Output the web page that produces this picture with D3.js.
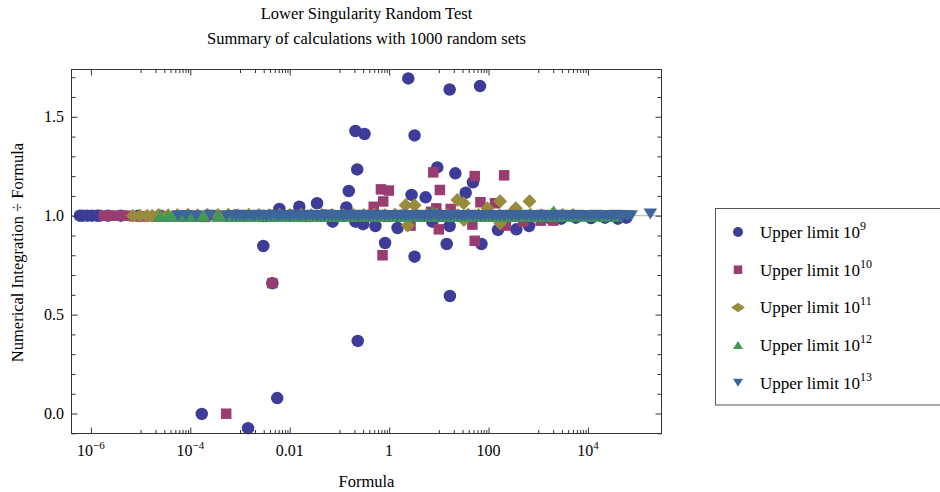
<!DOCTYPE html>
<html>
<head>
<meta charset="utf-8">
<script src="https://cdnjs.cloudflare.com/ajax/libs/d3/7.8.5/d3.min.js"></script>
<style>
    body { margin: 0; background: #fff; }
    svg text { font-family: "Liberation Serif", "Times New Roman", serif; fill: #000; }
</style>
</head>
<body>
<div id="vis"></div>
<script>
/* Lower singularity random test: numerical integration / formula, log x */

// Upper limit 10^9 (circles)
var circlePts = [
    [6.0e-7, 1.0], [6.8e-7, 1.0], [8.5e-7, 1.0], [1.05e-6, 1.0], [1.34e-6, 1.0], [1.5e-6, 1.0],
    [2.2e-6, 1.0], [4.0e-6, 1.0], [9e-6, 1.0], [2.5e-5, 1.0], [7e-5, 0.999], [2.2e-4, 1.0],
    [8e-4, 1.001], [3e-3, 0.999], [0.011, 1.0], [0.05, 1.001], [0.4, 0.998], [1.8, 1.0],
    [12, 0.999], [90, 1.0], [400, 0.998],
    [1.6e3, 0.99], [2.9e3, 0.985], [5.7e3, 0.99], [1.15e4, 0.988], [2.2e4, 0.99], [4.0e4, 0.985], [5.9e4, 0.99],
    [2.43, 1.694], [16.5, 1.638], [67.5, 1.655], [0.21, 1.428], [0.32, 1.413], [3.25, 1.406],
    [0.228, 1.234], [9.3, 1.244], [21.5, 1.214], [48.6, 1.169], [34.7, 1.116], [0.154, 1.125],
    [2.83, 1.105], [5.42, 1.093], [0.0355, 1.063], [0.0156, 1.045], [0.0062, 1.034], [0.138, 1.042],
    [0.073, 0.970], [0.21, 0.970], [0.83, 0.862], [14.4, 0.857], [72, 0.857], [3.25, 0.793],
    [155, 0.928], [363, 0.931], [656, 0.948], [0.30, 0.957], [16.5, 0.948], [0.00294, 0.847],
    [16.7, 0.594], [0.234, 0.367], [0.00447, 0.659], [0.0056, 0.078], [1.7e-4, -0.002],
    [1.45e-3, -0.074], [7.4, 0.970], [0.53, 0.948], [1.48, 0.938]
];

// Upper limit 10^10 (squares)
var squarePts = [
    [1.83e-6, 1.0], [2.4e-6, 1.0], [3.2e-6, 1.0], [4.2e-6, 1.0], [5.6e-6, 1.0],
    [7.5e-6, 0.997], [1.2e-5, 0.996], [2e-5, 0.995], [3.3e-5, 0.996], [5e-5, 0.995], [8e-5, 0.996],
    [1.3e-4, 0.995], [2e-4, 0.994], [3.5e-4, 0.996], [6e-4, 0.995], [1e-3, 0.995], [1.6e-3, 0.996],
    [2.8e-3, 0.994], [4.5e-3, 0.995], [8e-3, 0.996], [1.4e-2, 0.995], [2.3e-2, 0.994], [4e-2, 0.996],
    [6.5e-2, 0.995], [0.11, 0.995], [0.19, 0.994], [0.33, 0.996], [0.55, 0.995], [0.95, 0.994],
    [1.6, 0.995], [2.7, 0.996], [4.6, 0.995], [8, 0.994], [13, 0.995], [22, 0.996], [38, 0.994],
    [65, 0.995], [110, 0.995], [190, 0.994], [330, 0.995], [560, 0.994], [950, 0.995],
    [1.6e3, 0.994], [2.2e3, 0.995],
    [7.74, 1.219], [52.7, 1.20], [206, 1.204], [0.684, 1.133], [0.986, 1.127], [10.5, 1.13],
    [0.76, 1.072], [68.7, 1.068], [10.0, 0.931], [47.3, 0.955], [52.7, 0.873], [0.736, 0.80],
    [0.00447, 0.659], [5.27e-4, -0.001], [0.49, 1.045], [222, 0.95], [7.0, 1.02], [8.9, 1.037],
    [17.3, 1.034], [135, 1.063], [500, 0.97], [1120, 0.975], [2.0e3, 0.975], [2.7, 0.95]
];

// Upper limit 10^11 (diamonds)
var diamondPts = [
    [7.0e-6, 1.0], [9.7e-6, 1.0], [1.35e-5, 1.0], [1.7e-5, 1.0],
    [2.3e-5, 1.004], [3.6e-5, 1.002], [5.5e-5, 1.003], [9e-5, 1.005], [1.4e-4, 1.002], [2.2e-4, 1.005],
    [3.6e-4, 1.003], [5.8e-4, 1.005], [9e-4, 1.002], [1.5e-3, 1.005], [2.4e-3, 1.004], [3.9e-3, 1.002],
    [6.2e-3, 1.005], [1e-2, 1.003], [1.7e-2, 1.005], [2.7e-2, 1.002], [4.4e-2, 1.005], [7e-2, 1.004],
    [0.12, 1.002], [0.19, 1.005], [0.31, 1.003], [0.5, 1.005], [0.82, 1.002], [1.3, 1.005],
    [2.1, 1.003], [3.5, 1.005], [5.6, 1.002], [9, 1.005], [15, 1.004], [24, 1.002], [39, 1.005],
    [63, 1.003], [100, 1.005], [165, 1.002], [270, 1.005], [440, 1.004], [700, 1.005],
    [1.15e3, 1.002], [1.9e3, 1.005], [3.1e3, 1.003], [5e3, 1.004],
    [23.6, 1.079], [2.14, 1.053], [3.25, 1.053], [171, 1.073], [668, 1.073], [2.38, 0.95],
    [171, 0.962], [95, 1.037], [353, 1.037], [32, 0.978], [31.6, 1.063]
];

// Upper limit 10^12 (triangles)
var trianglePts = [
    [2.46e-5, 1.0], [3.56e-5, 1.0], [4.5e-5, 1.0], [1.81e-4, 1.0], [3.6e-4, 1.0],
    [6.5e-5, 0.999], [1.1e-4, 0.998], [5.5e-4, 0.999], [8e-4, 0.998], [1.2e-3, 0.999], [1.9e-3, 0.998],
    [3e-3, 0.999], [4.7e-3, 0.998], [7.5e-3, 0.999], [1.2e-2, 0.998], [1.9e-2, 0.999], [3e-2, 0.998],
    [4.8e-2, 0.999], [7.7e-2, 0.998], [0.12, 0.999], [0.2, 0.998], [0.32, 0.999], [0.5, 0.998],
    [0.8, 0.999], [1.3, 0.998], [2, 0.999], [3.2, 0.998], [5.1, 0.999], [8.2, 0.998], [13, 0.999],
    [21, 0.998], [33, 0.999], [53, 0.998], [85, 0.999], [135, 0.998], [215, 0.999], [345, 0.998],
    [550, 0.999], [880, 0.998], [1.4e3, 0.999], [2.2e3, 0.998], [3.6e3, 0.999], [5.7e3, 0.998],
    [9e3, 0.999], [1.45e4, 0.998], [2.3e4, 0.999], [3.7e4, 0.998],
    [7.4, 1.022], [2.05e3, 1.024]
];

// Upper limit 10^13 (down triangles)
var downPts = [
    [5.7e-5, 1.0], [8.2e-5, 1.001], [1.31e-4, 1.0], [2.5e-4, 1.002], [5.3e-4, 1.0],
    [7.0e-4, 1.001], [8.4e-4, 0.999],
    [1.0e-3, 1.002], [1.2e-3, 0.999], [1.4e-3, 1.001], [1.7e-3, 1.0], [2.0e-3, 0.998], [2.4e-3, 1.002],
    [2.9e-3, 1.0], [3.4e-3, 0.999], [4.1e-3, 1.001], [4.9e-3, 1.003], [5.8e-3, 0.999], [6.9e-3, 1.001], [8.3e-3, 1.0],
    [1.0e-2, 0.998], [1.2e-2, 1.002], [1.45e-2, 1.0], [1.7e-2, 1.001], [2.1e-2, 0.999], [2.5e-2, 1.002],
    [2.9e-2, 1.0], [3.5e-2, 0.998], [4.2e-2, 1.001], [5.0e-2, 1.0], [6.0e-2, 1.003], [7.1e-2, 0.999], [8.5e-2, 1.001],
    [0.10, 1.0], [0.12, 0.998], [0.14, 1.002], [0.17, 1.0], [0.20, 1.001], [0.24, 0.999], [0.28, 1.002],
    [0.34, 1.0], [0.40, 0.998], [0.48, 1.001], [0.57, 1.0], [0.68, 1.002], [0.82, 0.999],
    [1.0, 1.001], [1.2, 1.0], [1.45, 0.998], [1.75, 1.002], [2.1, 1.0], [2.5, 1.001], [3.0, 0.999],
    [3.6, 1.002], [4.3, 1.0], [5.1, 0.998], [6.1, 1.001], [7.2, 1.0], [8.6, 1.003],
    [10, 0.999], [12, 1.001], [14, 1.0], [17, 0.998], [20, 1.002], [24, 1.0], [29, 1.001], [34, 0.999],
    [41, 1.002], [49, 1.0], [58, 0.998], [70, 1.001], [83, 1.0],
    [100, 1.002], [120, 0.999], [145, 1.001], [170, 1.0], [205, 0.998], [245, 1.002], [290, 1.0],
    [350, 1.001], [415, 0.999], [500, 1.002], [590, 1.0], [710, 0.998], [850, 1.001],
    [1.0e3, 1.0], [1.2e3, 1.002], [1.4e3, 0.999], [1.7e3, 1.001], [2.0e3, 1.0], [2.4e3, 0.998],
    [2.9e3, 1.002], [3.5e3, 1.0], [4.2e3, 1.001], [5.0e3, 0.999], [6.0e3, 1.002], [7.1e3, 1.0], [8.5e3, 0.998],
    [1.0e4, 1.001], [1.2e4, 1.0], [1.45e4, 1.002], [1.7e4, 0.999], [2.1e4, 1.001], [2.5e4, 1.0],
    [3.0e4, 0.998], [3.6e4, 1.002], [4.3e4, 1.0], [5.2e4, 1.001], [6.2e4, 0.999], [7.4e4, 1.0],
    [1.8e5, 1.008]
];

// Tick values and labels
var xMajorTicks = [1e-6, 1e-4, 1e-2, 1, 100, 1e4];
var xTickLabels = [['10', '\u22126'], ['10', '\u22124'], ['0.01', ''], ['1', ''], ['100', ''], ['10', '4']];
var yMajorTicks = [0, 0.5, 1.0, 1.5];
var yTickLabels = ['0.0', '0.5', '1.0', '1.5'];
var legendExponents = ['9', '10', '11', '12', '13'];

// Plot frame in pixels
var margin = { left: 71.5, right: 278.5, top: 69.5, bottom: 58.5 };
var fullWidth = 940, fullHeight = 492;
var width = fullWidth - margin.left - margin.right;
var height = fullHeight - margin.top - margin.bottom;

var colors = ['#3d3d99', '#993d71', '#998b3d', '#3d9956', '#3d659c'];

// Marker paths, centred on the point
var markerPath = {
    circle: function(s) { var r = s / 2; return 'M' + r + ',0A' + r + ',' + r + ' 0 1,1 ' + (-r) + ',0A' + r + ',' + r + ' 0 1,1 ' + r + ',0Z'; },
    square: function(s) { var h = s / 2; return 'M' + (-h) + ',' + (-h) + 'h' + s + 'v' + s + 'h' + (-s) + 'Z'; },
    diamond: function(s, t) { var w = s / 2, h = (t || s) / 2; return 'M0,' + (-h) + 'L' + w + ',0L0,' + h + 'L' + (-w) + ',0Z'; },
    up: function(s, t) { var w = s / 2, h = (t || s) / 2; return 'M0,' + (-h) + 'L' + w + ',' + h + 'L' + (-w) + ',' + h + 'Z'; },
    down: function(s, t) { var w = s / 2, h = (t || s) / 2; return 'M' + (-w) + ',' + (-h) + 'L' + w + ',' + (-h) + 'L0,' + h + 'Z'; }
};

var series = [
    { pts: circlePts, shape: 'circle', size: [12.5], legendSize: [10] },
    { pts: squarePts, shape: 'square', size: [10.5], legendSize: [8.5] },
    { pts: diamondPts, shape: 'diamond', size: [14, 14], legendSize: [14, 9.5] },
    { pts: trianglePts, shape: 'up', size: [13.5, 11.5], legendSize: [10, 8] },
    { pts: downPts, shape: 'down', size: [13.5, 11] , legendSize: [10, 8] }
];

var svg = d3.select('#vis')
    .append('svg')
    .attr('width', fullWidth)
    .attr('height', fullHeight)
    .style('display', 'block');

svg.append('rect').attr('width', fullWidth).attr('height', fullHeight).attr('fill', '#fff');

/* ********************************** Scales ********************************** */
var xScale = d3.scaleLog()
    .domain([4.07e-7, 3.02e5])
    .range([margin.left, margin.left + width]);

var yScale = d3.scaleLinear()
    .domain([-0.101, 1.739])
    .range([margin.top + height, margin.top]);

// Minor ticks: 1..9 x 10^k in the decades just below each labelled power
var xMinorTicks = [];
[-5, -3, -1, 1, 3].forEach(function(e) {
    for (var k = 1; k <= 9; k++) xMinorTicks.push(k * Math.pow(10, e));
});
var yMinorTicks = d3.range(-1, 18).map(function(i) { return i / 10; })
    .filter(function(v) { return yMajorTicks.indexOf(v) < 0; });

/* ********************************** Reference line and points ********************************** */
svg.append('line')
    .attr('x1', margin.left).attr('x2', margin.left + width)
    .attr('y1', yScale(1)).attr('y2', yScale(1))
    .attr('stroke', '#9a9a9a')
    .attr('stroke-width', 0.8);

series.forEach(function(s, i) {
    var d = markerPath[s.shape](s.size[0], s.size[1]);
    svg.append('g')
        .selectAll('path')
        .data(s.pts)
        .enter().append('path')
        .attr('d', d)
        .attr('transform', function(p) { return 'translate(' + xScale(p[0]) + ',' + yScale(p[1]) + ')'; })
        .attr('fill', colors[i]);
});

/* ********************************** Frame ticks ********************************** */
var tickColor = '#333';
function drawAxis(axis, tx, ty) {
    var g = svg.append('g')
        .attr('transform', 'translate(' + tx + ',' + ty + ')')
        .call(axis);
    g.select('.domain').remove();
    g.selectAll('line').attr('stroke', tickColor);
    g.selectAll('text').remove();
}
var bottom = margin.top + height, right = margin.left + width;
drawAxis(d3.axisBottom(xScale).tickValues(xMajorTicks).tickSizeInner(-6).tickSizeOuter(0), 0, bottom);
drawAxis(d3.axisBottom(xScale).tickValues(xMinorTicks).tickSizeInner(-3.5).tickSizeOuter(0), 0, bottom);
drawAxis(d3.axisTop(xScale).tickValues(xMajorTicks).tickSizeInner(-6).tickSizeOuter(0), 0, margin.top);
drawAxis(d3.axisTop(xScale).tickValues(xMinorTicks).tickSizeInner(-3.5).tickSizeOuter(0), 0, margin.top);
drawAxis(d3.axisLeft(yScale).tickValues(yMajorTicks).tickSizeInner(-6).tickSizeOuter(0), margin.left, 0);
drawAxis(d3.axisLeft(yScale).tickValues(yMinorTicks).tickSizeInner(-4).tickSizeOuter(0), margin.left, 0);
drawAxis(d3.axisRight(yScale).tickValues(yMajorTicks).tickSizeInner(-6).tickSizeOuter(0), right, 0);
drawAxis(d3.axisRight(yScale).tickValues(yMinorTicks).tickSizeInner(-4).tickSizeOuter(0), right, 0);

svg.append('rect')
    .attr('x', margin.left).attr('y', margin.top)
    .attr('width', width).attr('height', height)
    .attr('fill', 'none')
    .attr('stroke', tickColor)
    .attr('stroke-width', 1);

/* ********************************** Tick labels ********************************** */
xMajorTicks.forEach(function(v, i) {
    var t = svg.append('text')
        .attr('x', xScale(v))
        .attr('y', 456)
        .attr('text-anchor', 'middle')
        .style('font-size', '16px')
        .text(xTickLabels[i][0]);
    if (xTickLabels[i][1]) {
        t.append('tspan')
            .attr('dy', -7)
            .style('font-size', '11px')
            .text(xTickLabels[i][1]);
    }
});

yMajorTicks.forEach(function(v, i) {
    svg.append('text')
        .attr('x', 64)
        .attr('y', yScale(v) + 5.5)
        .attr('text-anchor', 'end')
        .style('font-size', '16px')
        .text(yTickLabels[i]);
});

/* ********************************** Titles ********************************** */
var cx = margin.left + width / 2;
svg.append('text').attr('x', cx).attr('y', 19).attr('text-anchor', 'middle')
    .style('font-size', '16.5px').text('Lower Singularity Random Test');
svg.append('text').attr('x', cx).attr('y', 44).attr('text-anchor', 'middle')
    .style('font-size', '16.5px').text('Summary of calculations with 1000 random sets');
svg.append('text').attr('x', cx).attr('y', 487).attr('text-anchor', 'middle')
    .style('font-size', '16.5px').text('Formula');
svg.append('text')
    .attr('transform', 'translate(23,' + (margin.top + height / 2 + 1) + ') rotate(-90)')
    .attr('text-anchor', 'middle')
    .style('font-size', '16.5px')
    .text('Numerical Integration \u00f7 Formula');

/* ********************************** Legend ********************************** */
var legend = svg.append('g');
legend.append('rect')
    .attr('x', 715.5).attr('y', 208.5)
    .attr('width', 240).attr('height', 196.5)
    .attr('fill', '#fff')
    .attr('stroke', '#555');

series.forEach(function(s, i) {
    var cy = 232 + i * 37.7;
    legend.append('path')
        .attr('d', markerPath[s.shape](s.legendSize[0], s.legendSize[1]))
        .attr('transform', 'translate(738,' + cy + ')')
        .attr('fill', colors[i]);
    var t = legend.append('text')
        .attr('x', 760)
        .attr('y', cy + 6)
        .style('font-size', '17px')
        .text('Upper limit 10');
    t.append('tspan')
        .attr('dy', -8)
        .style('font-size', '12px')
        .text(legendExponents[i]);
});
</script>
</body>
</html>
